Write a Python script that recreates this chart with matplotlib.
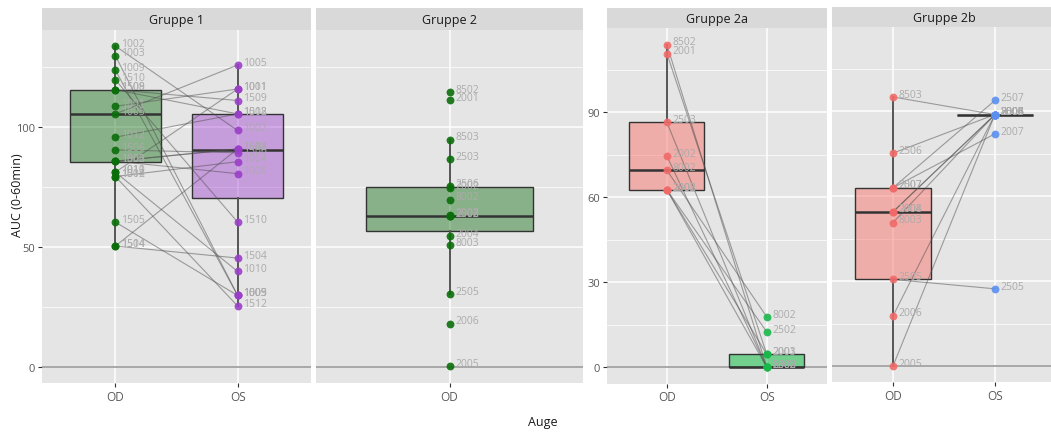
import numpy as np
import matplotlib.pyplot as plt
from matplotlib.colors import to_rgba

plt.rcParams['font.family'] = ['Open Sans', 'DejaVu Sans']

W, H = 1051, 435

# Gruppe 1 (OD / OS paired, per patient)
g1_ids = ['1002', '1003', '1009', '1510', '1508', '1509', '1001', '1005', '1012', '1506',
          '1503', '1502', '1011', '1004', '1006', '1010', '1512', '1505', '1504', '1514']
g1_od = [133.7, 129.7, 123.7, 119.6, 115.5, 115.5, 108.6, 105.4, 95.7, 90.4,
         85.7, 85.7, 81.1, 79.3, 85.7, 81.1, 79.3, 60.3, 50.3, 50.3]
g1_os = [98.5, 29.7, 29.7, 60.3, 105.4, 111.0, 115.8, 125.8, 105.4, 89.2,
         90.8, 90.8, 115.8, 85.5, 80.5, 39.7, 25.3, 29.7, 45.3, 90.8]

# Gruppe 2 (OD only)
g2_ids = ['8502', '2001', '8503', '2503', '2002', '2506', '8002', '2502', '2003', '2508',
          '2007', '2004', '8003', '2505', '2006', '2005']
g2_od = [114.4, 111.3, 94.7, 86.7, 74.5, 75.2, 69.7, 62.8, 62.8, 62.8,
         63.2, 54.5, 50.6, 30.4, 17.9, 0.1]

# Gruppe 2a
g2a_ids = ['8502', '2001', '2503', '2002', '8002', '2502', '2508', '2003']
g2a_od = [113.8, 110.7, 86.4, 74.5, 69.5, 62.6, 62.6, 62.6]
g2a_os = [0.0, 4.6, 0.0, 0.0, 17.8, 12.5, 0.0, 4.6]

# Gruppe 2b
g2b_ids = ['8503', '2506', '2007', '2507', '2004', '2008', '8003', '2505', '2006', '2005']
g2b_od = [95.0, 75.2, 63.0, 63.0, 54.5, 54.5, 50.7, 30.6, 17.8, 0.1]
g2b_os = [88.8, 88.8, 82.0, 93.8, 88.8, 88.8, 88.8, 27.3, 88.8, 88.8]

# box stats: whislo, q1, med, q3, whishi
box_g1_od = [50.3, 85.3, 105.4, 115.5, 133.7]
box_g1_os = [25.3, 70.4, 90.4, 105.4, 125.8]
box_g2_od = [30.4, 56.5, 62.8, 74.9, 94.7]
box_g2a_od = [62.6, 62.6, 69.5, 86.4, 113.8]
box_g2a_os = [0.0, 0.0, 0.0, 4.6, 4.6]
box_g2b_od = [0.1, 30.6, 54.5, 63.0, 95.0]
box_g2b_os = [88.8, 88.8, 88.8, 88.8, 88.8]

fig = plt.figure(figsize=(W / 100, H / 100), dpi=100)
fig.patch.set_facecolor('white')


def add_panel(x0, y0, x1, y1, strip_top, title):
    ax = fig.add_axes([x0 / W, 1 - y1 / H, (x1 - x0) / W, (y1 - y0) / H])
    st = fig.add_axes([x0 / W, 1 - y0 / H, (x1 - x0) / W, (y0 - strip_top) / H])
    st.set_facecolor('#d9d9d9')
    st.set_xticks([])
    st.set_yticks([])
    for s in st.spines.values():
        s.set_visible(False)
    st.text(0.5, 0.5, title, ha='center', va='center', fontsize=9, color='#1a1a1a',
            transform=st.transAxes)
    ax.set_facecolor('#e5e5e5')
    for s in ax.spines.values():
        s.set_visible(False)
    return ax


def style_axes(ax, cats, ylim, major, minor, show_y):
    ax.set_xlim(0.4, len(cats) + 0.6)
    ax.set_ylim(*ylim)
    ax.set_xticks(range(1, len(cats) + 1), cats)
    ax.set_yticks(major)
    ax.set_yticks(minor, minor=True)
    ax.grid(which='major', color='white', lw=1.1)
    ax.grid(which='minor', axis='y', color='white', lw=0.5)
    ax.set_axisbelow(True)
    ax.tick_params(axis='x', length=3, color='#333333', labelsize=8.5, labelcolor='#5a5a5a', pad=2)
    ax.tick_params(axis='y', which='minor', left=False)
    if show_y:
        ax.tick_params(axis='y', length=3, color='#333333', labelsize=8, labelcolor='#5a5a5a', pad=2)
    else:
        ax.tick_params(axis='y', left=False, labelleft=False)
    ax.axhline(0, color='#9a9a9a', lw=1.2, zorder=1.5)


def draw_box(ax, pos, st, color, alpha=0.4):
    stats = [dict(whislo=st[0], q1=st[1], med=st[2], q3=st[3], whishi=st[4], fliers=[])]
    ax.bxp(stats, positions=[pos], widths=0.75, patch_artist=True, showfliers=False,
           showcaps=False, manage_ticks=False,
           boxprops=dict(facecolor=to_rgba(color, alpha), edgecolor='#333333', lw=1),
           medianprops=dict(color='#333333', lw=1.8),
           whiskerprops=dict(color='#555555', lw=1.4), zorder=2)


def draw_points(ax, pos, vals, ids, color):
    ax.scatter(np.full(len(vals), pos), vals, s=32, color=color, alpha=0.9, zorder=4, lw=0)
    for v, t in zip(vals, ids):
        ax.annotate(t, (pos, v), xytext=(4, 2), textcoords='offset points', fontsize=7.5,
                    color='#ababab', va='center', ha='left', zorder=5)


def draw_pairs(ax, od, os_):
    for a, b in zip(od, os_):
        ax.plot([1, 2], [a, b], color='#4d4d4d', alpha=0.5, lw=0.8, zorder=3)


ylim1 = (-6.8, 140.4)
ylim2 = (-5.7, 119.6)

# Gruppe 1
ax1 = add_panel(42, 31, 311, 384, 9.3, 'Gruppe 1')
draw_box(ax1, 1, box_g1_od, 'darkgreen')
draw_box(ax1, 2, box_g1_os, '#9932cc')
draw_pairs(ax1, g1_od, g1_os)
draw_points(ax1, 1, g1_od, g1_ids, '#0a6e0a')
draw_points(ax1, 2, g1_os, g1_ids, '#9a3fc8')
style_axes(ax1, ['OD', 'OS'], ylim1, [0, 50, 100], [25, 75, 125], True)

# Gruppe 2
ax2 = add_panel(316, 31, 583, 384, 9.3, 'Gruppe 2')
draw_box(ax2, 1, box_g2_od, 'darkgreen')
draw_points(ax2, 1, g2_od, g2_ids, '#0a6e0a')
style_axes(ax2, ['OD'], ylim1, [0, 50, 100], [25, 75, 125], False)

# Gruppe 2a
ax3 = add_panel(607, 29.3, 826.7, 384.5, 9.3, 'Gruppe 2a')
draw_box(ax3, 1, box_g2a_od, '#f8766d', 0.5)
draw_box(ax3, 2, box_g2a_os, '#00ba38', 0.5)
draw_pairs(ax3, g2a_od, g2a_os)
draw_points(ax3, 1, g2a_od, g2a_ids, '#f06a68')
draw_points(ax3, 2, g2a_os, g2a_ids, '#19b84a')
style_axes(ax3, ['OD', 'OS'], ylim2, [0, 30, 60, 90], [15, 45, 75, 105], True)

# Gruppe 2b
ax4 = add_panel(832, 28.3, 1056, 383.3, 8.3, 'Gruppe 2b')
draw_box(ax4, 1, box_g2b_od, '#f8766d', 0.5)
draw_box(ax4, 2, box_g2b_os, '#f8766d', 0.0)
draw_pairs(ax4, g2b_od, g2b_os)
draw_points(ax4, 1, g2b_od, g2b_ids, '#f06a68')
draw_points(ax4, 2, g2b_os, g2b_ids, '#5b8ff0')
style_axes(ax4, ['OD', 'OS'], ylim2, [0, 30, 60, 90], [15, 45, 75, 105], False)

fig.text(17.5 / W, 1 - 195 / H, 'AUC (0-60min)', rotation=90, ha='center', va='center',
         fontsize=9, color='#1a1a1a')
fig.text(543 / W, 1 - 423 / H, 'Auge', ha='center', va='center', fontsize=9, color='#1a1a1a')

fig.savefig('out.png', dpi=100)
